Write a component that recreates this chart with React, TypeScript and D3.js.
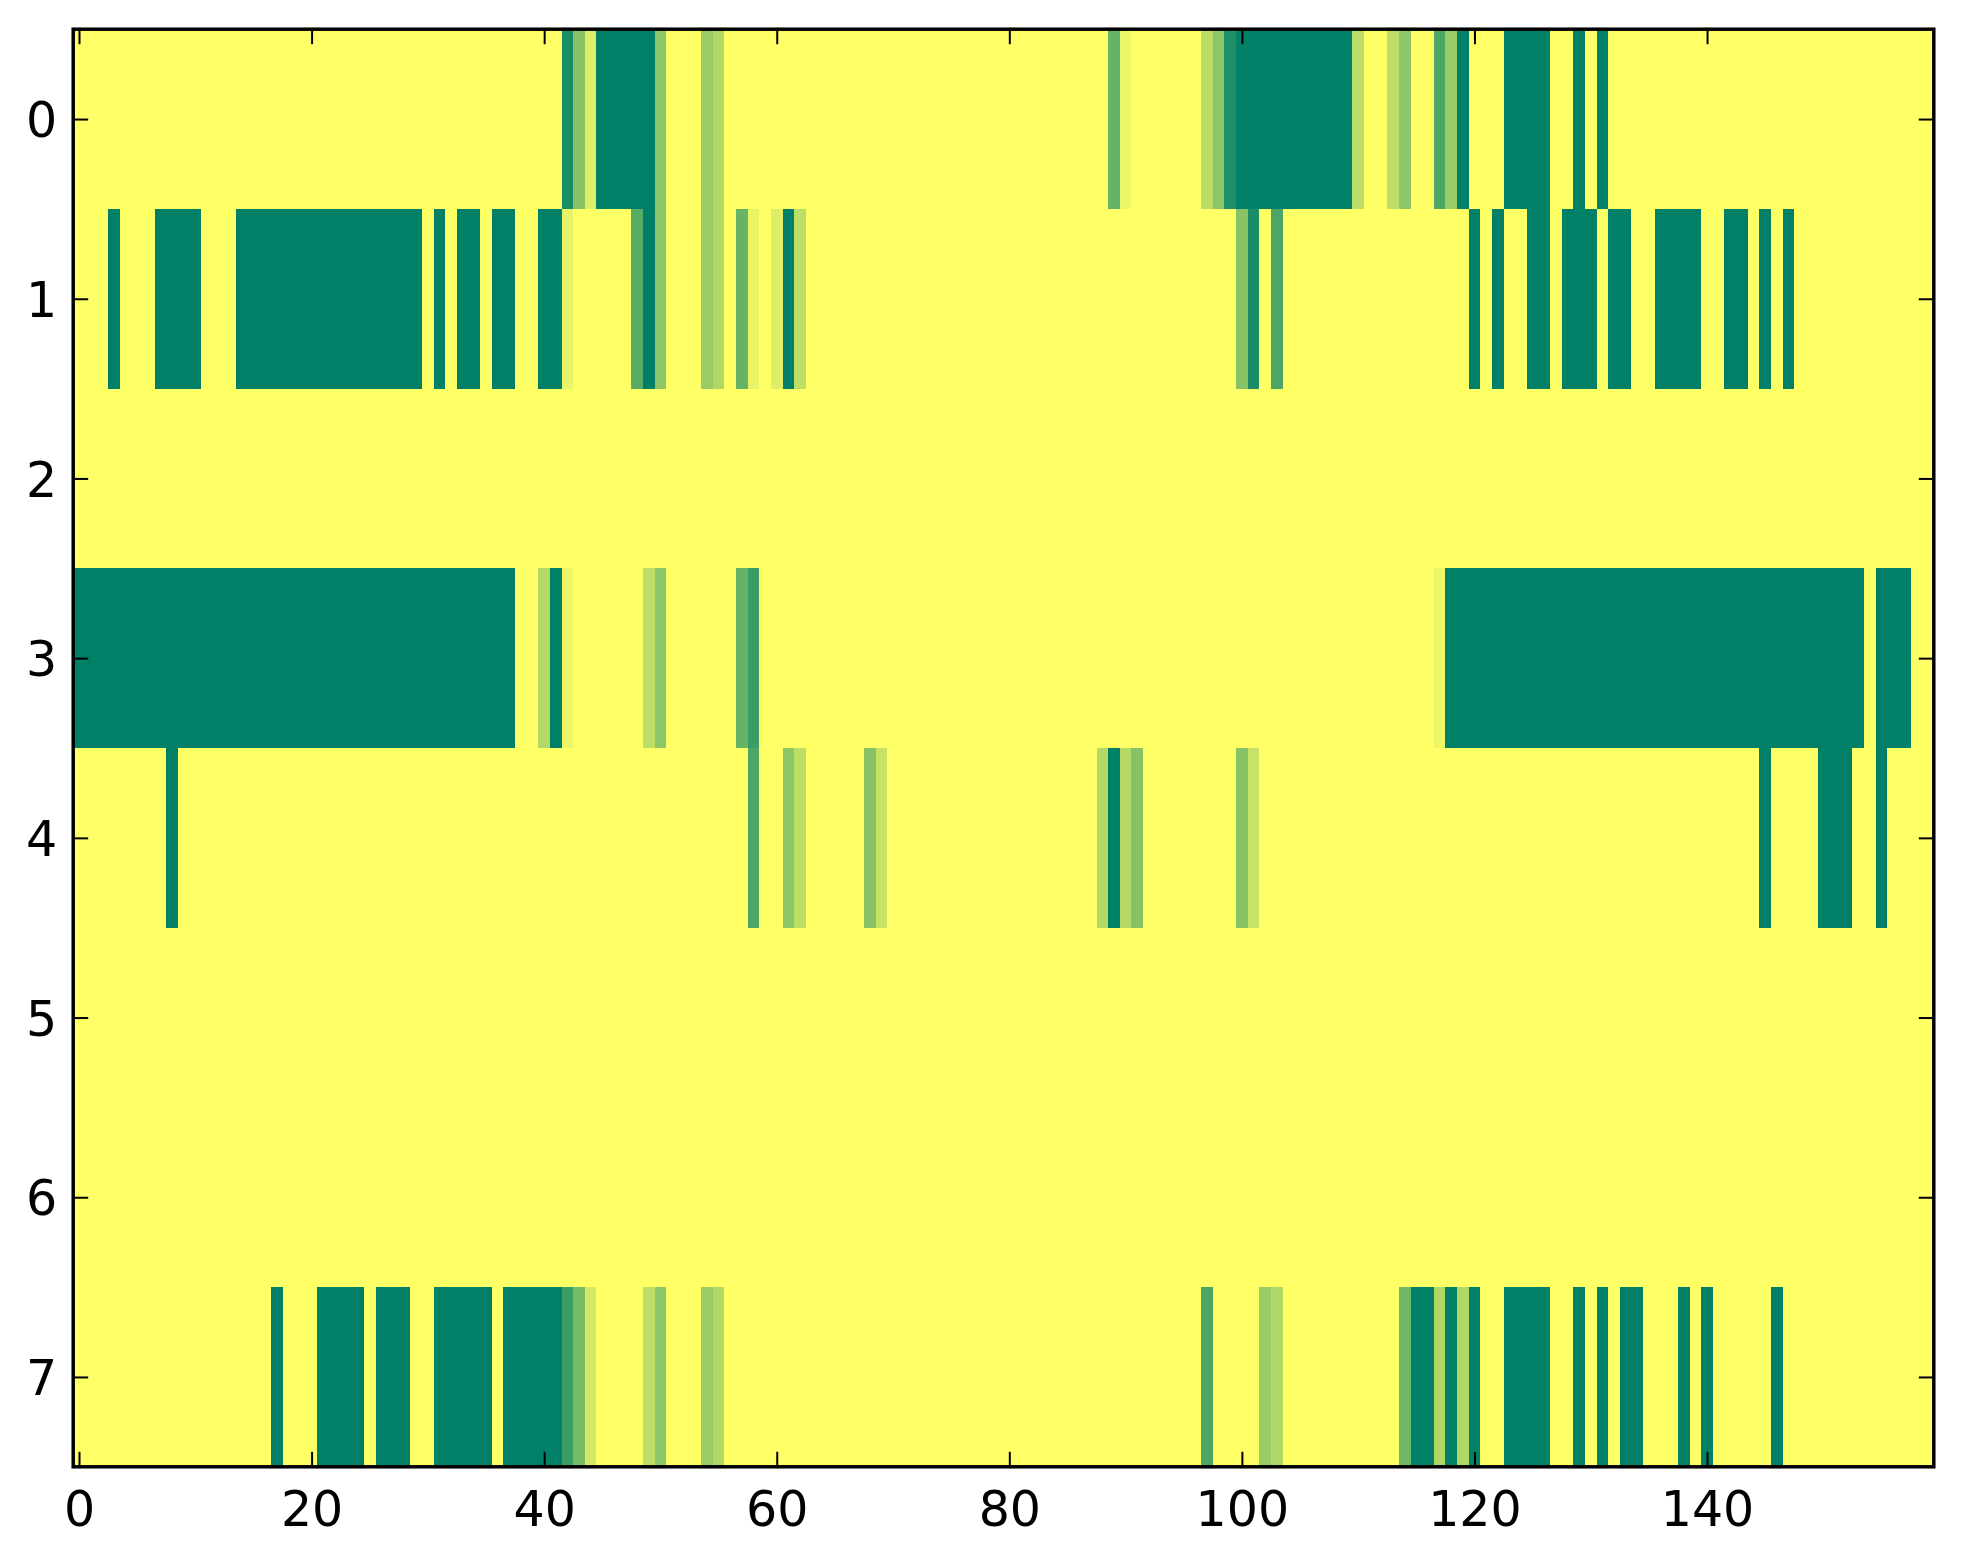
import * as d3 from 'd3';
import { useEffect, useRef } from 'react';

// heat map values, one array per row (160 columns each)
const row0 = [
    0, 0, 0, 0, 0, 0, 0, 0, 0, 0, 0, 0, 0, 0, 0, 0, 0, 0, 0, 0,
    0, 0, 0, 0, 0, 0, 0, 0, 0, 0, 0, 0, 0, 0, 0, 0, 0, 0, 0, 0,
    0, 0, 0.9, 0.47, 0.13, 1, 1, 1, 1, 1, 0.45, 0, 0, 0, 0.4, 0.31, 0, 0, 0, 0,
    0, 0, 0, 0, 0, 0, 0, 0, 0, 0, 0, 0, 0, 0, 0, 0, 0, 0, 0, 0,
    0, 0, 0, 0, 0, 0, 0, 0, 0, 0.6, 0.07, 0, 0, 0, 0, 0, 0, 0.26, 0.45, 0.88,
    1, 1, 1, 1, 1, 1, 1, 1, 1, 1, 0.26, 0, 0, 0.26, 0.45, 0, 0, 0.7, 0.4, 1,
    0, 0, 0, 1, 1, 1, 1, 0, 0, 1, 0, 1, 0, 0, 0, 0, 0, 0, 0, 0,
    0, 0, 0, 0, 0, 0, 0, 0, 0, 0, 0, 0, 0, 0, 0, 0, 0, 0, 0, 0,
];
const row1 = [
    0, 0, 0, 1, 0, 0, 0, 1, 1, 1, 1, 0, 0, 0, 1, 1, 1, 1, 1, 1,
    1, 1, 1, 1, 1, 1, 1, 1, 1, 1, 0, 1, 0, 1, 1, 0, 1, 1, 0, 0,
    1, 1, 0.09, 0, 0, 0, 0, 0, 0.65, 1, 0.45, 0, 0, 0, 0.4, 0.31, 0, 0.6, 0.09, 0,
    0.13, 1, 0.26, 0, 0, 0, 0, 0, 0, 0, 0, 0, 0, 0, 0, 0, 0, 0, 0, 0,
    0, 0, 0, 0, 0, 0, 0, 0, 0, 0, 0, 0, 0, 0, 0, 0, 0, 0, 0, 0,
    0.47, 0.9, 0, 0.7, 0, 0, 0, 0, 0, 0, 0, 0, 0, 0, 0, 0, 0, 0, 0, 0,
    1, 0, 1, 0, 0, 1, 1, 0, 1, 1, 1, 0, 1, 1, 0, 0, 1, 1, 1, 1,
    0, 0, 1, 1, 0, 1, 0, 1, 0, 0, 0, 0, 0, 0, 0, 0, 0, 0, 0, 0,
];
const row2 = [
    0, 0, 0, 0, 0, 0, 0, 0, 0, 0, 0, 0, 0, 0, 0, 0, 0, 0, 0, 0,
    0, 0, 0, 0, 0, 0, 0, 0, 0, 0, 0, 0, 0, 0, 0, 0, 0, 0, 0, 0,
    0, 0, 0, 0, 0, 0, 0, 0, 0, 0, 0, 0, 0, 0, 0, 0, 0, 0, 0, 0,
    0, 0, 0, 0, 0, 0, 0, 0, 0, 0, 0, 0, 0, 0, 0, 0, 0, 0, 0, 0,
    0, 0, 0, 0, 0, 0, 0, 0, 0, 0, 0, 0, 0, 0, 0, 0, 0, 0, 0, 0,
    0, 0, 0, 0, 0, 0, 0, 0, 0, 0, 0, 0, 0, 0, 0, 0, 0, 0, 0, 0,
    0, 0, 0, 0, 0, 0, 0, 0, 0, 0, 0, 0, 0, 0, 0, 0, 0, 0, 0, 0,
    0, 0, 0, 0, 0, 0, 0, 0, 0, 0, 0, 0, 0, 0, 0, 0, 0, 0, 0, 0,
];
const row3 = [
    1, 1, 1, 1, 1, 1, 1, 1, 1, 1, 1, 1, 1, 1, 1, 1, 1, 1, 1, 1,
    1, 1, 1, 1, 1, 1, 1, 1, 1, 1, 1, 1, 1, 1, 1, 1, 1, 1, 0, 0,
    0.3, 1, 0.08, 0, 0, 0, 0, 0, 0, 0.26, 0.45, 0, 0, 0, 0, 0, 0, 0.6, 0.77, 0,
    0, 0, 0, 0, 0, 0, 0, 0, 0, 0, 0, 0, 0, 0, 0, 0, 0, 0, 0, 0,
    0, 0, 0, 0, 0, 0, 0, 0, 0, 0, 0, 0, 0, 0, 0, 0, 0, 0, 0, 0,
    0, 0, 0, 0, 0, 0, 0, 0, 0, 0, 0, 0, 0, 0, 0, 0, 0, 0.07, 1, 1,
    1, 1, 1, 1, 1, 1, 1, 1, 1, 1, 1, 1, 1, 1, 1, 1, 1, 1, 1, 1,
    1, 1, 1, 1, 1, 1, 1, 1, 1, 1, 1, 1, 1, 1, 0, 1, 1, 1, 0, 0,
];
const row4 = [
    0, 0, 0, 0, 0, 0, 0, 0, 1, 0, 0, 0, 0, 0, 0, 0, 0, 0, 0, 0,
    0, 0, 0, 0, 0, 0, 0, 0, 0, 0, 0, 0, 0, 0, 0, 0, 0, 0, 0, 0,
    0, 0, 0, 0, 0, 0, 0, 0, 0, 0, 0, 0, 0, 0, 0, 0, 0, 0, 0.7, 0,
    0, 0.45, 0.26, 0, 0, 0, 0, 0, 0.47, 0.22, 0, 0, 0, 0, 0, 0, 0, 0, 0, 0,
    0, 0, 0, 0, 0, 0, 0, 0, 0.3, 1, 0.3, 0.47, 0, 0, 0, 0, 0, 0, 0, 0,
    0.47, 0.22, 0, 0, 0, 0, 0, 0, 0, 0, 0, 0, 0, 0, 0, 0, 0, 0, 0, 0,
    0, 0, 0, 0, 0, 0, 0, 0, 0, 0, 0, 0, 0, 0, 0, 0, 0, 0, 0, 0,
    0, 0, 0, 0, 0, 1, 0, 0, 0, 0, 1, 1, 1, 0, 0, 1, 0, 0, 0, 0,
];
const row5 = [
    0, 0, 0, 0, 0, 0, 0, 0, 0, 0, 0, 0, 0, 0, 0, 0, 0, 0, 0, 0,
    0, 0, 0, 0, 0, 0, 0, 0, 0, 0, 0, 0, 0, 0, 0, 0, 0, 0, 0, 0,
    0, 0, 0, 0, 0, 0, 0, 0, 0, 0, 0, 0, 0, 0, 0, 0, 0, 0, 0, 0,
    0, 0, 0, 0, 0, 0, 0, 0, 0, 0, 0, 0, 0, 0, 0, 0, 0, 0, 0, 0,
    0, 0, 0, 0, 0, 0, 0, 0, 0, 0, 0, 0, 0, 0, 0, 0, 0, 0, 0, 0,
    0, 0, 0, 0, 0, 0, 0, 0, 0, 0, 0, 0, 0, 0, 0, 0, 0, 0, 0, 0,
    0, 0, 0, 0, 0, 0, 0, 0, 0, 0, 0, 0, 0, 0, 0, 0, 0, 0, 0, 0,
    0, 0, 0, 0, 0, 0, 0, 0, 0, 0, 0, 0, 0, 0, 0, 0, 0, 0, 0, 0,
];
const row6 = [
    0, 0, 0, 0, 0, 0, 0, 0, 0, 0, 0, 0, 0, 0, 0, 0, 0, 0, 0, 0,
    0, 0, 0, 0, 0, 0, 0, 0, 0, 0, 0, 0, 0, 0, 0, 0, 0, 0, 0, 0,
    0, 0, 0, 0, 0, 0, 0, 0, 0, 0, 0, 0, 0, 0, 0, 0, 0, 0, 0, 0,
    0, 0, 0, 0, 0, 0, 0, 0, 0, 0, 0, 0, 0, 0, 0, 0, 0, 0, 0, 0,
    0, 0, 0, 0, 0, 0, 0, 0, 0, 0, 0, 0, 0, 0, 0, 0, 0, 0, 0, 0,
    0, 0, 0, 0, 0, 0, 0, 0, 0, 0, 0, 0, 0, 0, 0, 0, 0, 0, 0, 0,
    0, 0, 0, 0, 0, 0, 0, 0, 0, 0, 0, 0, 0, 0, 0, 0, 0, 0, 0, 0,
    0, 0, 0, 0, 0, 0, 0, 0, 0, 0, 0, 0, 0, 0, 0, 0, 0, 0, 0, 0,
];
const row7 = [
    0, 0, 0, 0, 0, 0, 0, 0, 0, 0, 0, 0, 0, 0, 0, 0, 0, 1, 0, 0,
    0, 1, 1, 1, 1, 0, 1, 1, 1, 0, 0, 1, 1, 1, 1, 1, 0, 1, 1, 1,
    1, 1, 0.77, 0.53, 0.17, 0, 0, 0, 0, 0.26, 0.45, 0, 0, 0, 0.4, 0.31, 0, 0, 0, 0,
    0, 0, 0, 0, 0, 0, 0, 0, 0, 0, 0, 0, 0, 0, 0, 0, 0, 0, 0, 0,
    0, 0, 0, 0, 0, 0, 0, 0, 0, 0, 0, 0, 0, 0, 0, 0, 0, 0.7, 0, 0,
    0, 0, 0.4, 0.31, 0, 0, 0, 0, 0, 0, 0, 0, 0, 0, 0.56, 1, 1, 0.31, 1, 0.31,
    1, 0, 0, 1, 1, 1, 1, 0, 0, 1, 0, 1, 0, 1, 1, 0, 0, 0, 1, 0,
    1, 0, 0, 0, 0, 0, 1, 0, 0, 0, 0, 0, 0, 0, 0, 0, 0, 0, 0, 0,
];

const rows = [row0, row1, row2, row3, row4, row5, row6, row7];
const xTicks = [0, 20, 40, 60, 80, 100, 120, 140];
const yTicks = [0, 1, 2, 3, 4, 5, 6, 7];

const HeatMap = () => {
    const ref = useRef<SVGSVGElement>(null);

    useEffect(() => {
        const width = 1963;
        const height = 1564;
        const left = 73.2;
        const right = 1933.8;
        const top = 29.2;
        const bottom = 1466.8;
        const nCols = row0.length;

        const svg: any = d3.select(ref.current);
        svg.selectAll('*').remove();
        svg.attr('width', width).attr('height', height);

        svg.append('rect').attr('width', width).attr('height', height).attr('fill', '#fff');

        const x: any = d3.scaleLinear().domain([-0.5, nCols - 0.5]).range([left, right]);
        const y: any = d3.scaleLinear().domain([-0.5, rows.length - 0.5]).range([top, bottom]);
        // summer_r colormap: yellow at 0, green at 1
        const color: any = d3.scaleLinear<string>()
            .domain([0, 1])
            .range(['#ffff66', '#008066'])
            .interpolate(d3.interpolateRgb);

        const cells: any[] = [];
        rows.forEach((r, ri) => r.forEach((v, ci) => cells.push({ row: ri, col: ci, value: v })));

        svg.append('g')
            .selectAll('rect')
            .data(cells)
            .enter()
            .append('rect')
            .attr('x', (d: any) => x(d.col - 0.5))
            .attr('y', (d: any) => y(d.row - 0.5))
            .attr('width', (d: any) => x(d.col + 0.5) - x(d.col - 0.5) + 0.4)
            .attr('height', (d: any) => y(d.row + 0.5) - y(d.row - 0.5) + 0.4)
            .attr('fill', (d: any) => color(d.value))
            .attr('shape-rendering', 'crispEdges');

        const tickLen = 15;
        const font = '"DejaVu Sans", sans-serif';

        const styleAxis = (g: any) => {
            g.select('.domain').remove();
            g.selectAll('line').attr('stroke', '#000').attr('stroke-width', 2);
            g.selectAll('text')
                .attr('fill', '#000')
                .style('font-family', font)
                .style('font-size', '49px');
        };

        svg.append('g')
            .attr('transform', `translate(0,${bottom})`)
            .call(d3.axisBottom(x).tickValues(xTicks).tickSizeInner(-tickLen).tickSizeOuter(0).tickPadding(24))
            .call(styleAxis);

        svg.append('g')
            .attr('transform', `translate(0,${top})`)
            .call(d3.axisTop(x).tickValues(xTicks).tickSizeInner(-tickLen).tickSizeOuter(0).tickFormat(() => ''))
            .call(styleAxis);

        svg.append('g')
            .attr('transform', `translate(${left},0)`)
            .call(d3.axisLeft(y).tickValues(yTicks).tickSizeInner(-tickLen).tickSizeOuter(0).tickPadding(16))
            .call(styleAxis)
            .selectAll('text')
            .attr('dy', '0.36em');

        svg.append('g')
            .attr('transform', `translate(${right},0)`)
            .call(d3.axisRight(y).tickValues(yTicks).tickSizeInner(-tickLen).tickSizeOuter(0).tickFormat(() => ''))
            .call(styleAxis);

        // frame
        svg.append('rect')
            .attr('x', left)
            .attr('y', top)
            .attr('width', right - left)
            .attr('height', bottom - top)
            .attr('fill', 'none')
            .attr('stroke', '#000')
            .attr('stroke-width', 3.5);
    }, []);

    return <svg ref={ref} style={{ position: 'absolute', left: 0, top: 0, display: 'block' }}></svg>;
};

export default function App() {
    return <HeatMap />;
}
